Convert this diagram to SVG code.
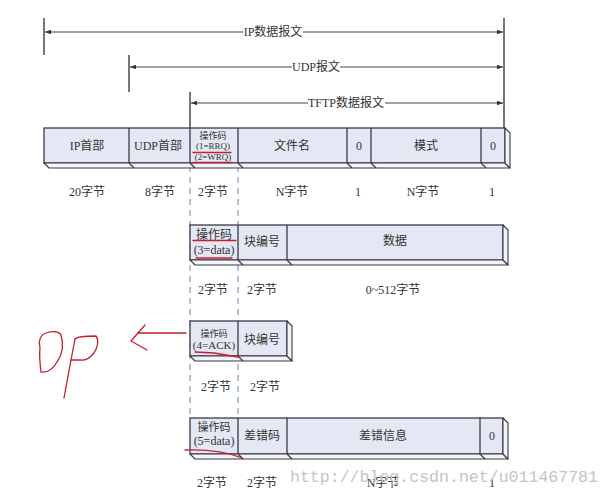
<svg xmlns="http://www.w3.org/2000/svg" width="612" height="497" viewBox="0 0 612 497">
<defs>
<style>
.t{font-family:"Liberation Serif","Noto Sans CJK SC",serif;fill:#333;text-anchor:middle}
.f12{font-size:12px}
.f11{font-size:11px}
.f9{font-size:9px}
.front{fill:#e4e8f4;stroke:#3a3a44;stroke-width:1.3}
.face{fill:#f3f4f9;stroke:#3a3a44;stroke-width:1.1;stroke-linejoin:round}
.div{stroke:#3a3a44;stroke-width:1.3;fill:none}
.dim{stroke:#444;stroke-width:1.1;fill:none}
.tick{stroke:#555;stroke-width:1.6}
.dash{stroke:#8a9ab8;stroke-width:1.2;stroke-dasharray:6 5;fill:none}
.red{stroke:#c81e32;stroke-width:1.3;fill:none;stroke-linecap:round;stroke-linejoin:round}
.wm{font-family:"Liberation Mono",monospace;font-size:17px;fill:#c4c4c4}
</style>
<marker id="ar" viewBox="0 0 8 6" refX="8" refY="3" markerWidth="6" markerHeight="4.5" orient="auto-start-reverse" markerUnits="userSpaceOnUse">
<path d="M0,0 L8,3 L0,6 z" fill="#333"/>
</marker>
</defs>
<rect width="612" height="497" fill="#fff"/>

<g id="connectors">
<line class="tick" x1="44" y1="18" x2="44" y2="55"/>
<line class="tick" x1="129" y1="55" x2="129" y2="92"/>
<line class="tick" x1="190" y1="92" x2="190" y2="128"/>
<line class="tick" x1="504" y1="18" x2="504" y2="128"/>
<line class="dim" x1="45" y1="32" x2="503" y2="32" marker-start="url(#ar)" marker-end="url(#ar)"/>
<line class="dim" x1="130" y1="67" x2="503" y2="67" marker-start="url(#ar)" marker-end="url(#ar)"/>
<line class="dim" x1="191" y1="103" x2="503" y2="103" marker-start="url(#ar)" marker-end="url(#ar)"/>
<rect x="243" y="25" width="60" height="14" fill="#fff"/>
<rect x="292" y="60" width="48" height="14" fill="#fff"/>
<rect x="308" y="96" width="77" height="14" fill="#fff"/>
<line class="dash" x1="190" y1="166" x2="190" y2="418"/>
<line class="dash" x1="238" y1="166" x2="238" y2="418"/>
</g>

<g id="span-labels">
<text class="t f12" x="273" y="36">IP数据报文</text>
<text class="t f12" x="316" y="71">UDP报文</text>
<text class="t f12" x="346" y="107">TFTP数据报文</text>
</g>

<g id="row1">
<rect class="front" x="44" y="128" width="461" height="35"/>
<polygon class="face" points="44,163 49,168 510,168 505,163"/>
<polygon class="face" points="505,128 510,133 510,168 505,163"/>
<path class="div" d="M129,128V163M190,128V163M238,128V163M347,128V163M371,128V163M481,128V163M129,163l5,5M190,163l5,5M238,163l5,5M347,163l5,5M371,163l5,5M481,163l5,5"/>
<text class="t f12" x="87" y="150">IP首部</text>
<text class="t f12" x="158" y="150">UDP首部</text>
<text class="t f9" x="213" y="139">操作码</text>
<text class="t f9" x="213" y="149">(1=RRQ)</text>
<text class="t f9" x="213" y="160">(2=WRQ)</text>
<text class="t f12" x="292" y="150">文件名</text>
<text class="t f12" x="359" y="150">0</text>
<text class="t f12" x="426" y="150">模式</text>
<text class="t f12" x="493" y="150">0</text>
<path class="red" d="M193,152.5H231M193,162.5H232"/>
</g>
<g id="row1-sizes">
<text class="t f12" x="87" y="196">20字节</text>
<text class="t f12" x="160" y="196">8字节</text>
<text class="t f12" x="213" y="196">2字节</text>
<text class="t f12" x="292" y="196">N字节</text>
<text class="t f12" x="358" y="196">1</text>
<text class="t f12" x="423" y="196">N字节</text>
<text class="t f12" x="492" y="196">1</text>
</g>

<g id="row2">
<rect class="front" x="190" y="225" width="313" height="35"/>
<polygon class="face" points="190,260 195,265 508,265 503,260"/>
<polygon class="face" points="503,225 508,230 508,265 503,260"/>
<path class="div" d="M238,225V260M287,225V260M238,260l5,5M287,260l5,5"/>
<text class="t f12" x="214" y="239">操作码</text>
<text class="t f12" x="214" y="254">(3=data)</text>
<text class="t f12" x="262" y="246">块编号</text>
<text class="t f12" x="395" y="245">数据</text>
<path class="red" d="M193,240.5H236M196,258H232"/>
</g>
<g id="row2-sizes">
<text class="t f12" x="213" y="294">2字节</text>
<text class="t f12" x="262" y="294">2字节</text>
<text class="t f12" x="393" y="294">0~512字节</text>
</g>

<g id="row3">
<rect class="front" x="190" y="321" width="97" height="35"/>
<polygon class="face" points="190,356 195,361 292,361 287,356"/>
<polygon class="face" points="287,321 292,326 292,361 287,356"/>
<path class="div" d="M238,321V356M238,356l5,5"/>
<text class="t f9" x="214" y="337">操作码</text>
<text class="t f11" x="214" y="349">(4=ACK)</text>
<text class="t f12" x="262" y="344">块编号</text>
<path class="red" d="M195,352 L214,353 L238,357"/>
</g>
<g id="row3-sizes">
<text class="t f12" x="216" y="391">2字节</text>
<text class="t f12" x="265" y="391">2字节</text>
</g>

<g id="row4">
<rect class="front" x="190" y="418" width="313" height="36"/>
<polygon class="face" points="190,454 195,459 508,459 503,454"/>
<polygon class="face" points="503,418 508,423 508,459 503,454"/>
<path class="div" d="M238,418V454M287,418V454M480,418V454M238,454l5,5M287,454l5,5M480,454l5,5"/>
<text class="t f11" x="214" y="431">操作码</text>
<text class="t f12" x="214" y="445">(5=data)</text>
<text class="t f12" x="262" y="440">差错码</text>
<text class="t f12" x="383" y="440">差错信息</text>
<text class="t f12" x="492" y="440">0</text>
<path class="red" d="M185,450 Q220,449 242,458"/>
</g>
<g id="row4-sizes">
<text class="t f12" x="212" y="487">2字节</text>
<text class="t f12" x="262" y="487">2字节</text>
<text class="t f12" x="383" y="487">N字节</text>
<text class="t f12" x="492" y="487">1</text>
</g>

<g id="annotation">
<path class="red" d="M186,333 H138"/>
<path class="red" d="M145,325 L131,341 L147,350"/>
<path class="red" d="M46,333 C40,335 38,342 40,348 C39,356 40,364 41,372 C48,373 53,369 57,362 C62,355 64,345 61,335 C59,331 52,331 46,333 Z"/>
<path class="red" d="M75,339 L71,360 L64,398"/>
<path class="red" d="M75,339 C78,336 88,336 96,336 C99,340 98,347 94,353 C90,358 86,361 80,360 L71,360"/>
</g>

<text class="wm" x="290" y="482" textLength="308" lengthAdjust="spacingAndGlyphs">http://blog.csdn.net/u011467781</text>
</svg>
